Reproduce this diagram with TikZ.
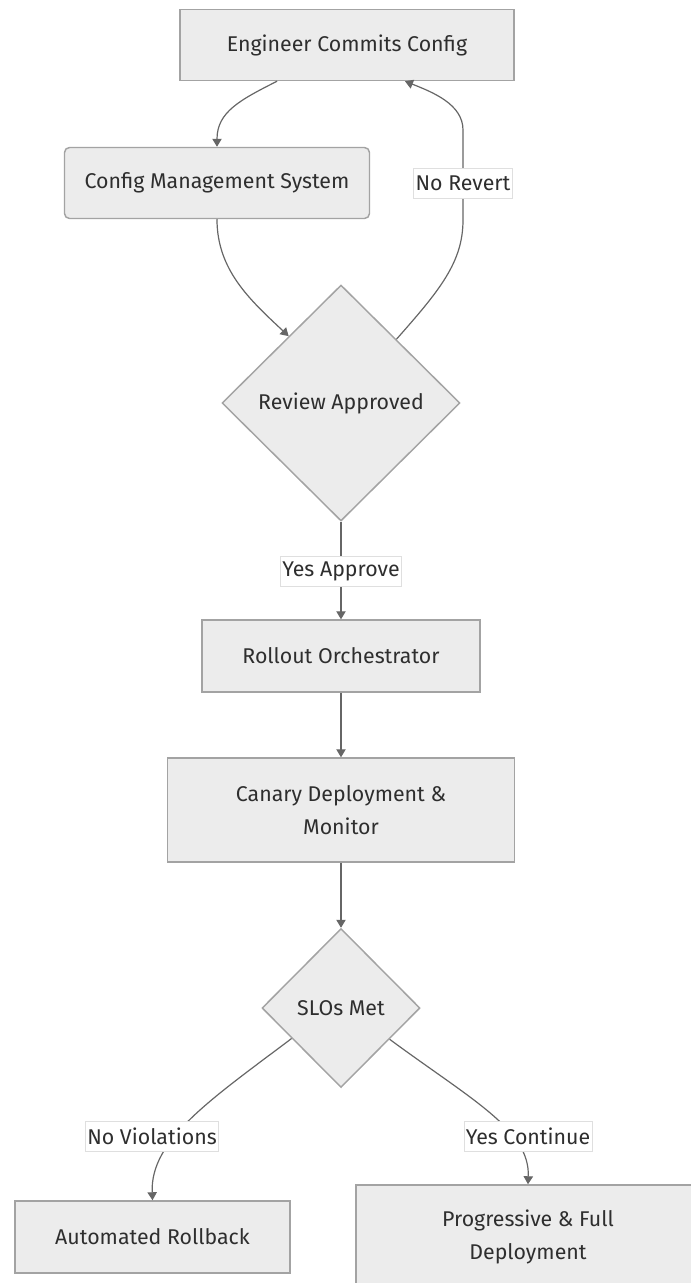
\documentclass[tikz,border=0pt]{standalone}
\usepackage{fontspec}
\setmainfont{Fira Sans}
\usetikzlibrary{shapes.geometric,arrows.meta,calc}
\definecolor{boxfill}{HTML}{ECECEC}
\definecolor{boxline}{HTML}{A3A3A3}
\definecolor{edgeline}{HTML}{666666}
\definecolor{txt}{HTML}{2E2E2E}
\begin{document}
\begin{tikzpicture}[
  x=0.75pt, y=-0.75pt,
  font=\fontsize{16}{24.75}\selectfont, text=txt,
  box/.style={draw=boxline, fill=boxfill, line width=1.1pt, inner sep=0pt, align=center},
  decision/.style={diamond, draw=boxline, fill=boxfill, line width=1.1pt, inner sep=0pt, align=center},
  edge/.style={draw=edgeline, line width=0.9pt, -{Triangle[length=6pt,width=7pt]}},
  lbl/.style={fill=white, draw=gray!25, line width=0.4pt, inner xsep=1.5pt, inner ysep=0pt, minimum height=22.5pt}
]
\useasboundingbox (0,0) rectangle (691,1283);

% process steps
\node[box, minimum width=250.5pt, minimum height=53.25pt] (A) at (347,45) {Engineer Commits Config};
\node[box, rounded corners=3.75pt, minimum width=228.75pt, minimum height=53.25pt] (B) at (217,183) {Config Management System};
\node[decision, minimum width=178.5pt, minimum height=177pt] (C) at (341,403) {Review Approved};
\node[box, minimum width=208.5pt, minimum height=54pt] (D) at (341,656) {Rollout Orchestrator};
\node[box, minimum width=260.25pt, minimum height=78pt] (E) at (341,810) {Canary Deployment \&\\Monitor};
\node[decision, minimum width=118.5pt, minimum height=119.25pt] (F) at (341,1008) {SLOs Met};
\node[box, minimum width=206.25pt, minimum height=54pt] (G) at (152.5,1237) {Automated Rollback};
\node[box, minimum width=258pt, minimum height=78pt] (H) at (528,1237) {Progressive \& Full\\Deployment};

% connectors
\draw[edge] ([xshift=-52.5pt]A.south) .. controls (240,100) and (217,112) .. (B.north);
\draw[edge] (B.south) .. controls (217,270) and (250,300) .. ($(C.west)!0.563!(C.north)$);
\draw[edge] ($(C.east)!0.537!(C.north)$) .. controls (440,290) and (463,262) .. (463,220)
  -- (463,130) .. controls (463,104) and (432,92) .. ([xshift=43.5pt]A.south);
\draw[edge] (C.south) -- (D.north);
\draw[edge] (D.south) -- (E.north);
\draw[edge] (E.south) -- (F.north);
\draw[edge] ($(F.west)!0.38!(F.south)$) .. controls (210,1100) and (150,1140) .. (G.north);
\draw[edge] ($(F.east)!0.39!(F.south)$) .. controls (472,1100) and (530,1130) .. (H.north);

% edge labels
\node[lbl] (l1) at (463,183) {No Revert};
\node[lbl] (l2) at (341,571) {Yes Approve};
\node[lbl] (l3) at (152,1136) {No Violations};
\node[lbl] (l4) at (528,1136) {Yes Continue};
\end{tikzpicture}
\end{document}
